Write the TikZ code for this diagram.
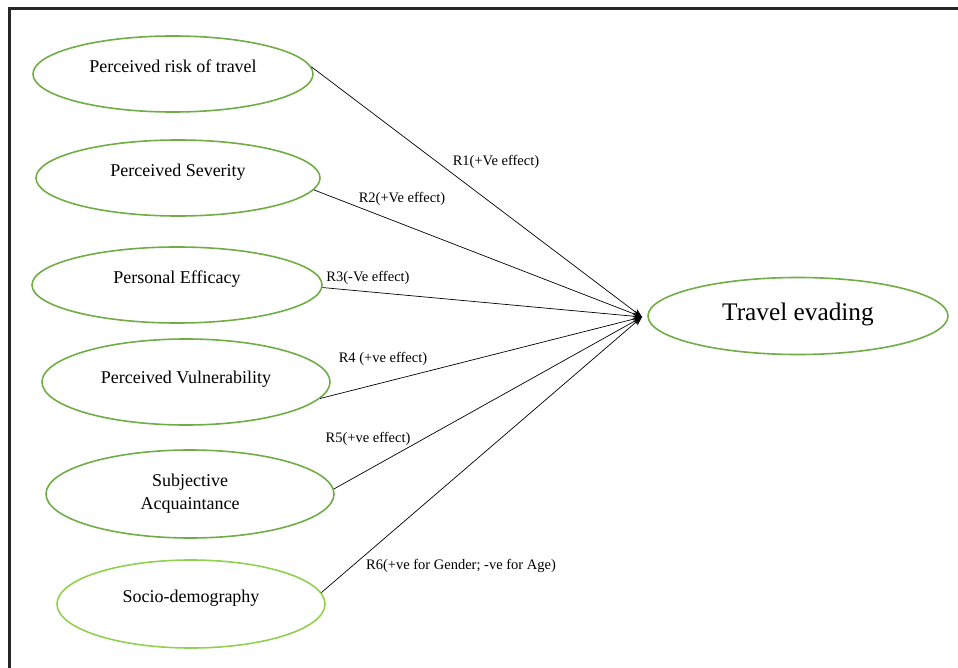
\documentclass[tikz,border=0pt]{standalone}
\usepackage{fontspec}
\setmainfont{Liberation Serif}
\usetikzlibrary{shapes.geometric,arrows.meta}
\definecolor{ovalgreen}{RGB}{112,173,71}
\definecolor{palegreen}{RGB}{146,208,80}
\begin{document}
\begin{tikzpicture}[x=1pt,y=-1pt]
        \tikzstyle{factor}=[
            ellipse,draw=ovalgreen,line width=1.6pt,inner sep=0pt,align=center,
            text depth=16pt,font=\fontsize{18}{23}\selectfont,
        ]
        \tikzstyle{outcome}=[factor, text depth=8pt, font=\fontsize{25.3}{28}\selectfont];
        \tikzstyle{annot}=[inner sep=1pt, font=\fontsize{14.5}{17}\selectfont];
        \tikzstyle{effect}=[-{Stealth[length=9pt,width=7pt]}, line width=0.7pt];

        \useasboundingbox (0,0) rectangle (958,668);

        % Draw the frame
        \draw[line width=3pt, black!85] (958,9) -- (9,9) -- (9,668);

        % Draw the factor nodes
        \node[factor, minimum width=280pt, minimum height=76pt] (risk) at (173,74) {Perceived risk of travel};
        \node[factor, minimum width=284pt, minimum height=76pt] (severity) at (178,178) {Perceived Severity};
        \node[factor, minimum width=290pt, minimum height=76pt] (efficacy) at (177,285) {Personal Efficacy};
        \node[factor, minimum width=288pt, minimum height=86pt, text depth=10pt] (vulnerability) at (186,382) {Perceived Vulnerability};
        \node[factor, minimum width=288pt, minimum height=88pt, text depth=4pt] (acquaintance) at (190,494) {Subjective\\Acquaintance};
        \node[factor, draw=palegreen, minimum width=268pt, minimum height=88pt] (demography) at (191,604) {Socio-demography};

        % Draw the outcome node
        \node[outcome, minimum width=300pt, minimum height=77pt] (evading) at (798,316) {Travel evading};
        \coordinate (hub) at (642,317);

        % Connect every factor with the outcome
        \foreach \src/\ang in {risk/3, severity/-5, efficacy/-1, vulnerability/-7, acquaintance/2, demography/5}
            \draw[effect] (\src.\ang) -- (hub);

        % Annotate the paths
        \node[annot] (r1) at (496,162) {R1(+Ve effect)};
        \node[annot] (r2) at (402,199) {R2(+Ve effect)};
        \node[annot] (r3) at (368,278) {R3(-Ve effect)};
        \node[annot] (r4) at (383,359) {R4 (+ve effect)};
        \node[annot] (r5) at (368,439) {R5(+ve effect)};
        \node[annot] (r6) at (461,566) {R6(+ve for Gender; -ve for Age)};
\end{tikzpicture}
\end{document}
